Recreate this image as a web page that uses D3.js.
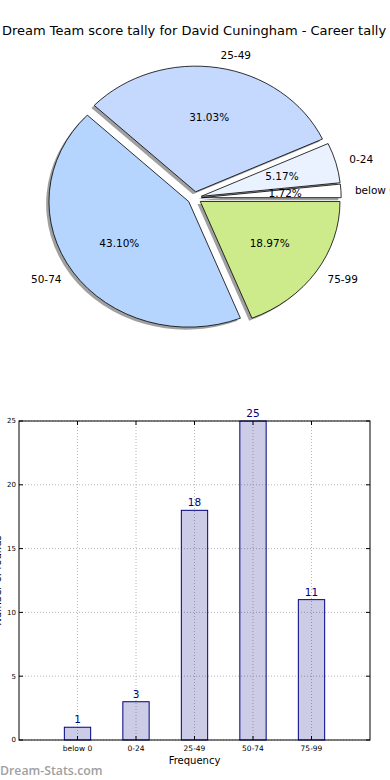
<!DOCTYPE html>
<html>
<head>
<meta charset="utf-8">
<script src="https://cdn.jsdelivr.net/npm/d3@7"></script>
<style>
  body { margin: 0; background: #fff; }
  svg { display: block; font-family: "DejaVu Sans", sans-serif; }
</style>
</head>
<body>
<div id="chart"></div>
<script>
// data
const categories = ["below 0", "0-24", "25-49", "50-74", "75-99"];
const counts = [1, 3, 18, 25, 11];
const pieColors = ["#ffffff", "#eaf1ff", "#c5d9ff", "#b5d5ff", "#cdeb8b"];
const yTicks = [0, 5, 10, 15, 20, 25];

const width = 390, height = 780;
const total = d3.sum(counts);

const svg = d3.select("#chart")
  .append("svg")
  .attr("width", width)
  .attr("height", height);

// ---------- title ----------
svg.append("text")
  .attr("x", 194)
  .attr("y", 35)
  .attr("text-anchor", "middle")
  .style("font-size", "13px")
  .text("Dream Team score tally for David Cuningham - Career tally");

// ---------- pie (matplotlib style: ccw from 3 o'clock, elliptical) ----------
const cx = 194.5, cy = 198, rx = 139.7, ry = 125.6;
const explode = 0.05;

const pie = d3.pie()
  .sort(null)
  .value(d => d.count)
  .startAngle(Math.PI / 2)
  .endAngle(Math.PI / 2 - 2 * Math.PI);

const slices = pie(categories.map((c, i) => ({ name: c, count: counts[i], color: pieColors[i] })));

const arc = d3.arc().innerRadius(0).outerRadius(1);

function mid(d) { return (d.startAngle + d.endAngle) / 2; }
function offX(d, k) { return Math.sin(mid(d)) * k * rx; }
function offY(d, k) { return -Math.cos(mid(d)) * k * ry; }

const pieG = svg.append("g");

// shadows first, under every wedge
pieG.selectAll("path.shadow")
  .data(slices)
  .join("path")
  .attr("class", "shadow")
  .attr("d", arc)
  .attr("transform", d => `translate(${cx + offX(d, explode) - 2.8}, ${cy + offY(d, explode) + 2.5}) scale(${rx}, ${ry})`)
  .attr("fill", "#777")
  .attr("fill-opacity", 0.7);

pieG.selectAll("path.wedge")
  .data(slices)
  .join("path")
  .attr("class", "wedge")
  .attr("d", arc)
  .attr("transform", d => `translate(${cx + offX(d, explode)}, ${cy + offY(d, explode)}) scale(${rx}, ${ry})`)
  .attr("fill", d => d.data.color)
  .attr("stroke", "#000")
  .attr("stroke-width", 0.8)
  .attr("vector-effect", "non-scaling-stroke");

// category labels
pieG.selectAll("text.lab")
  .data(slices)
  .join("text")
  .attr("class", "lab")
  .attr("x", d => cx + offX(d, explode + 1.1))
  .attr("y", d => cy + offY(d, explode + 1.1))
  .attr("dy", "0.35em")
  .attr("text-anchor", d => Math.sin(mid(d)) > 0 ? "start" : "end")
  .style("font-size", "10.5px")
  .text(d => d.data.name);

// percentage labels
pieG.selectAll("text.pct")
  .data(slices)
  .join("text")
  .attr("class", "pct")
  .attr("x", d => cx + offX(d, explode + 0.6))
  .attr("y", d => cy + offY(d, explode + 0.6))
  .attr("dy", "0.35em")
  .attr("text-anchor", "middle")
  .style("font-size", "10.5px")
  .text(d => (d.data.count / total * 100).toFixed(2) + "%");

// ---------- bar chart ----------
const plotLeft = 19, plotRight = 370, plotTop = 421, plotBottom = 740;
const x = d3.scaleLinear().domain([0, categories.length + 1]).range([plotLeft, plotRight]);
const y = d3.scaleLinear().domain([0, 25]).range([plotBottom, plotTop]);
const barW = 0.45;

const barG = svg.append("g");

// dotted grid
barG.selectAll("line.hgrid")
  .data(yTicks)
  .join("line")
  .attr("x1", plotLeft).attr("x2", plotRight)
  .attr("y1", d => y(d)).attr("y2", d => y(d))
  .attr("stroke", "#b8b8b8")
  .attr("stroke-width", 1)
  .attr("stroke-dasharray", "1,2");

barG.selectAll("line.vgrid")
  .data(categories)
  .join("line")
  .attr("x1", (d, i) => x(i + 1)).attr("x2", (d, i) => x(i + 1))
  .attr("y1", plotTop).attr("y2", plotBottom)
  .attr("stroke", "#b8b8b8")
  .attr("stroke-width", 1)
  .attr("stroke-dasharray", "1,2");

// bars
barG.selectAll("rect.bar")
  .data(counts)
  .join("rect")
  .attr("x", (d, i) => x(i + 1 - barW / 2))
  .attr("y", d => y(d))
  .attr("width", x(barW) - x(0))
  .attr("height", d => plotBottom - y(d))
  .attr("fill", "#000080")
  .attr("fill-opacity", 0.2)
  .attr("stroke", "#000080")
  .attr("stroke-width", 1);

// value labels
barG.selectAll("text.val")
  .data(counts)
  .join("text")
  .attr("x", (d, i) => x(i + 1))
  .attr("y", d => y(d) - 4)
  .attr("text-anchor", "middle")
  .attr("fill", "#000080")
  .style("font-size", "10.5px")
  .text(d => d);

// frame
barG.append("rect")
  .attr("x", plotLeft).attr("y", plotTop)
  .attr("width", plotRight - plotLeft).attr("height", plotBottom - plotTop)
  .attr("fill", "none")
  .attr("stroke", "#000")
  .attr("stroke-width", 1);

// ticks (inward, both sides)
yTicks.forEach(t => {
  barG.append("line").attr("x1", plotLeft).attr("x2", plotLeft + 4).attr("y1", y(t)).attr("y2", y(t)).attr("stroke", "#000");
  barG.append("line").attr("x1", plotRight - 4).attr("x2", plotRight).attr("y1", y(t)).attr("y2", y(t)).attr("stroke", "#000");
});
categories.forEach((c, i) => {
  barG.append("line").attr("x1", x(i + 1)).attr("x2", x(i + 1)).attr("y1", plotBottom).attr("y2", plotBottom - 4).attr("stroke", "#000");
  barG.append("line").attr("x1", x(i + 1)).attr("x2", x(i + 1)).attr("y1", plotTop).attr("y2", plotTop + 4).attr("stroke", "#000");
});

// tick labels
barG.selectAll("text.ytick")
  .data(yTicks)
  .join("text")
  .attr("x", plotLeft - 3)
  .attr("y", d => y(d))
  .attr("dy", "0.35em")
  .attr("text-anchor", "end")
  .style("font-size", "7px")
  .text(d => d);

barG.selectAll("text.xtick")
  .data(categories)
  .join("text")
  .attr("x", (d, i) => x(i + 1))
  .attr("y", plotBottom + 11)
  .attr("text-anchor", "middle")
  .style("font-size", "7.5px")
  .text(d => d);

// axis titles
barG.append("text")
  .attr("x", x(3))
  .attr("y", 764)
  .attr("text-anchor", "middle")
  .style("font-size", "10px")
  .text("Frequency");

barG.append("text")
  .attr("transform", `translate(1, ${(plotTop + plotBottom) / 2}) rotate(-90)`)
  .attr("text-anchor", "middle")
  .style("font-size", "10px")
  .text("Number of rounds");

// watermark
svg.append("text")
  .attr("x", 0)
  .attr("y", 775)
  .attr("fill", "#a0a0a0")
  .style("font-family", "'Open Sans', sans-serif")
  .style("font-weight", 600)
  .style("font-size", "12.3px")
  .text("Dream-Stats.com");
</script>
</body>
</html>
